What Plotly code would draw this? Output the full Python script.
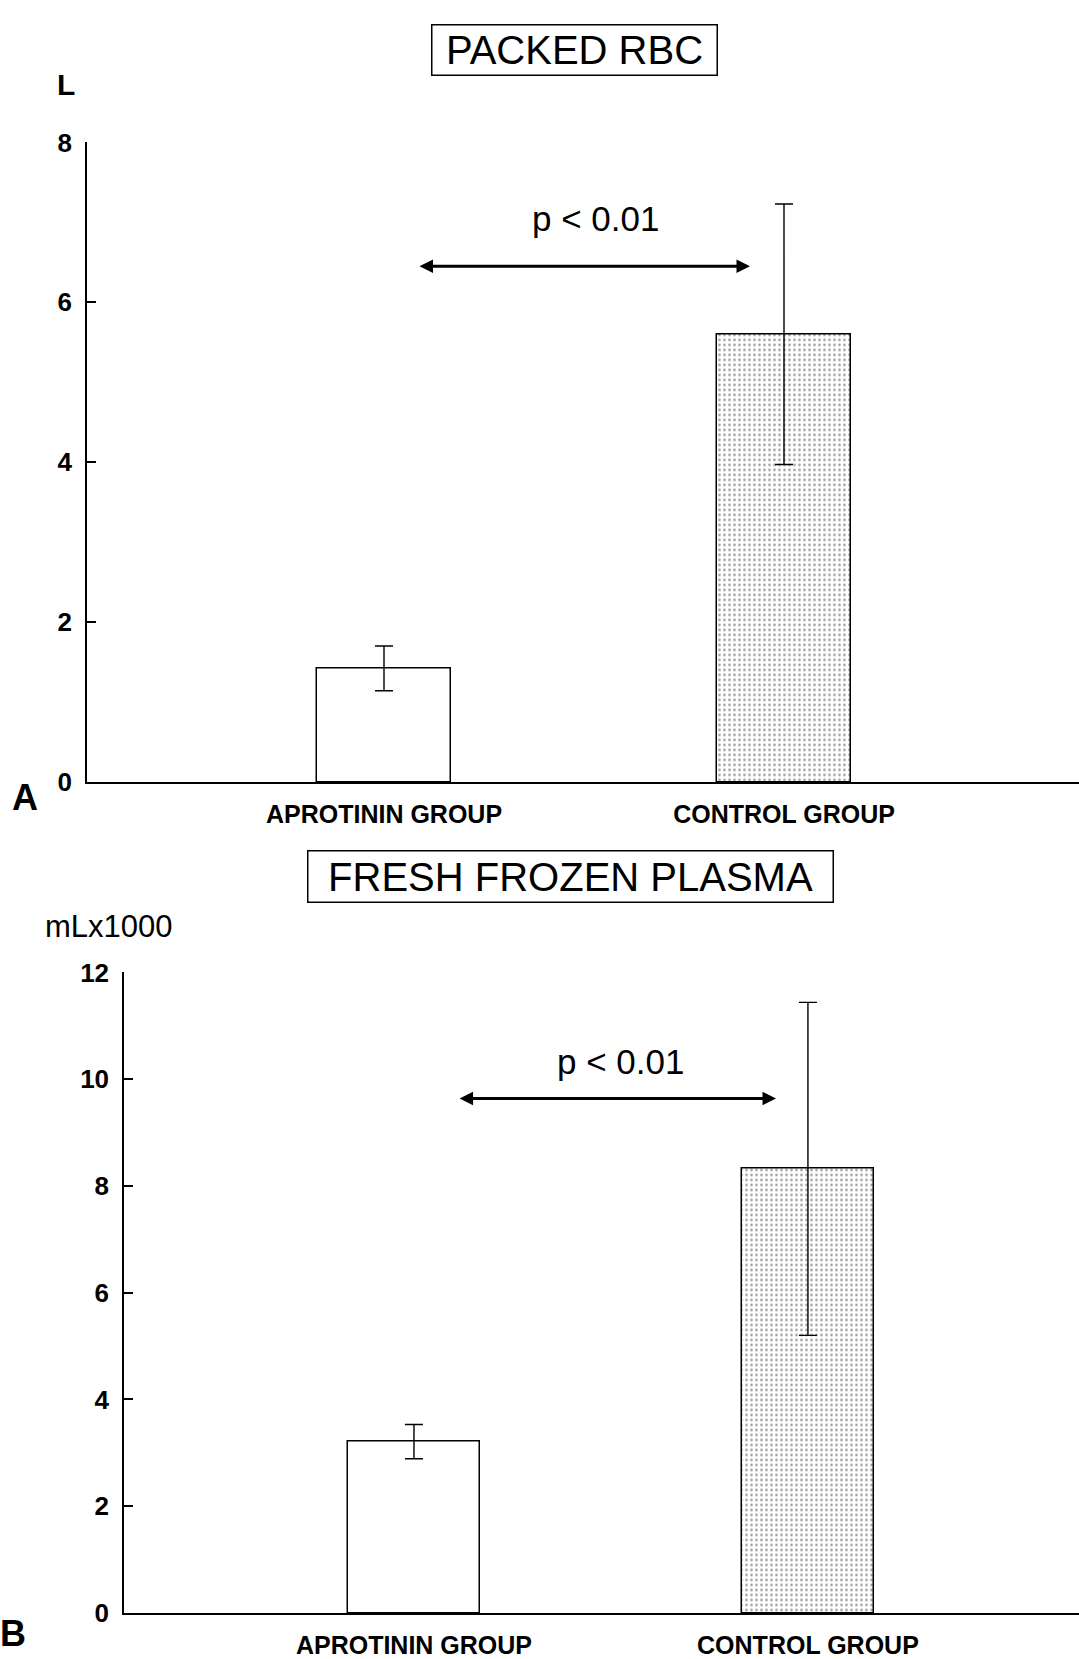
import plotly.graph_objects as go

W, H = 1079, 1659

# ---------------- data ----------------
groups = ["APROTININ GROUP", "CONTROL GROUP"]
group_pos = [0, 1]

rbc_values = [1.42, 5.60]          # L
rbc_errors = [0.28, 1.63]
rbc_ticks = [0, 2, 4, 6, 8]

ffp_values = [3.21, 8.32]          # mL x 1000
ffp_errors = [0.32, 3.12]
ffp_ticks = [0, 2, 4, 6, 8, 10, 12]

p_text = "p < 0.01"
rbc_arrow = dict(x0=0.085, x1=0.915, y=6.45)
ffp_arrow = dict(x0=0.112, x1=0.919, y=9.64)

FONT = "Liberation Sans, Arial, sans-serif"


def px(x):
    return x / W


def py(y):
    # compensate for the slight vertical scaling seen in the rendered page
    ys = (y - 13.3) / 0.983
    return 1 - ys / H


fig = go.Figure()

bar_style = [
    dict(color="white", line=dict(color="black", width=1.5)),
    dict(color="white", line=dict(color="black", width=1.5),
         pattern=dict(shape=".", fgcolor="#333333", bgcolor="white",
                      size=5, solidity=0.22)),
]

for vals, errs, xa, ya in [(rbc_values, rbc_errors, "x", "y"),
                           (ffp_values, ffp_errors, "x2", "y2")]:
    for i in range(2):
        fig.add_trace(go.Bar(
            x=[group_pos[i]], y=[vals[i]], width=0.335,
            marker=bar_style[i],
            error_y=dict(type="data", array=[errs[i]], visible=True,
                         color="black", thickness=1.4, width=9),
            xaxis=xa, yaxis=ya, showlegend=False,
        ))

axis_common = dict(showgrid=False, zeroline=False, showline=True,
                   linecolor="black", mirror=False)

fig.update_layout(
    width=W, height=H,
    margin=dict(l=0, r=0, t=0, b=0),
    paper_bgcolor="white", plot_bgcolor="white",
    font=dict(family=FONT, color="black"),
    bargap=0,
    xaxis=dict(domain=[px(87), 1.0], range=[-0.7425, 1.7375],
               tickvals=group_pos, ticktext=groups, ticks="",
               ticklabelstandoff=9, linewidth=2,
               tickfont=dict(size=25, family=FONT, weight=700),
               anchor="y", **axis_common),
    yaxis=dict(domain=[py(782), py(141)], range=[0, 8],
               tickvals=rbc_ticks, ticks="inside", ticklen=9, tickwidth=1.5,
               tickcolor="black", linewidth=1.5, ticklabelstandoff=8,
               tickfont=dict(size=26, family=FONT, weight=700),
               anchor="x", **axis_common),
    xaxis2=dict(domain=[px(124), 1.0], range=[-0.736, 1.688],
                tickvals=group_pos, ticktext=groups, ticks="",
                ticklabelstandoff=9, linewidth=2,
                tickfont=dict(size=25, family=FONT, weight=700),
                anchor="y2", **axis_common),
    yaxis2=dict(domain=[py(1615), py(973)], range=[0, 12],
                tickvals=ffp_ticks, ticks="inside", ticklen=9, tickwidth=1.5,
                tickcolor="black", linewidth=1.5, ticklabelstandoff=8,
                tickfont=dict(size=26, family=FONT, weight=700),
                anchor="x2", **axis_common),
)

ann = []
# boxed titles
ann.append(dict(text="PACKED RBC", xref="paper", yref="paper",
                x=px(574.5), y=py(48), xanchor="center", yanchor="middle",
                showarrow=False, font=dict(size=40, family=FONT),
                bordercolor="black", borderwidth=1.5, borderpad=0,
                width=284, height=49))
ann.append(dict(text="FRESH FROZEN PLASMA", xref="paper", yref="paper",
                x=px(570.5), y=py(877), xanchor="center", yanchor="middle",
                showarrow=False, font=dict(size=40, family=FONT),
                bordercolor="black", borderwidth=1.5, borderpad=0,
                width=524, height=50))
# unit labels
ann.append(dict(text="L", xref="paper", yref="paper", x=px(66), y=py(83),
                xanchor="center", yanchor="middle", showarrow=False,
                font=dict(size=30, family=FONT, weight=700)))
ann.append(dict(text="mLx1000", xref="paper", yref="paper", x=px(109), y=py(927),
                xanchor="center", yanchor="middle", showarrow=False,
                font=dict(size=31, family=FONT)))
# panel letters
ann.append(dict(text="A", xref="paper", yref="paper", x=px(25), y=py(798),
                xanchor="center", yanchor="middle", showarrow=False,
                font=dict(size=36, family=FONT, weight=700)))
ann.append(dict(text="B", xref="paper", yref="paper", x=px(13), y=py(1636),
                xanchor="center", yanchor="middle", showarrow=False,
                font=dict(size=36, family=FONT, weight=700)))
# p-values
ann.append(dict(text=p_text, xref="paper", yref="paper", x=px(595), y=py(217),
                xanchor="center", yanchor="middle", showarrow=False,
                font=dict(size=35, family=FONT)))
ann.append(dict(text=p_text, xref="paper", yref="paper", x=px(620), y=py(1062),
                xanchor="center", yanchor="middle", showarrow=False,
                font=dict(size=35, family=FONT)))
# double-headed arrows
for a, xr, yr in [(rbc_arrow, "x", "y"), (ffp_arrow, "x2", "y2")]:
    ann.append(dict(x=a["x1"], y=a["y"], ax=a["x0"], ay=a["y"],
                    xref=xr, yref=yr, axref=xr, ayref=yr, text="",
                    showarrow=True, arrowhead=2, startarrowhead=2,
                    arrowside="end+start", arrowwidth=3, arrowsize=0.9,
                    startarrowsize=0.9, arrowcolor="black"))

fig.update_layout(annotations=ann)

fig.write_html("out.html")
